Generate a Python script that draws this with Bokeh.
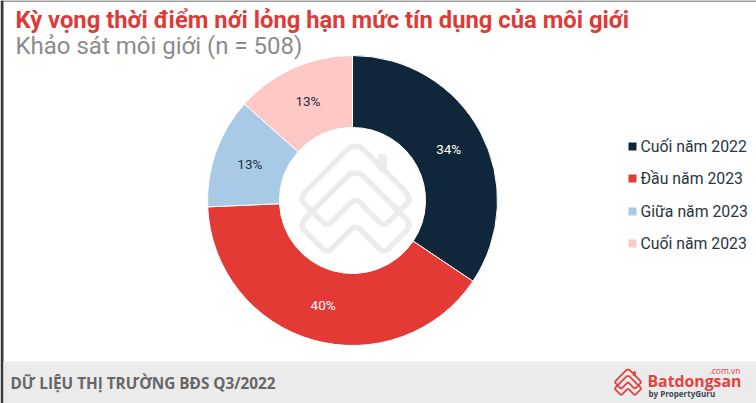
import math
from bokeh.plotting import figure
from bokeh.core.properties import value
from bokeh.models import ColumnDataSource, Range1d
from bokeh.embed import file_html
from bokeh.resources import INLINE

categories = ["Cuối năm 2022", "Đầu năm 2023", "Giữa năm 2023", "Cuối năm 2023"]
values = [34.4, 39.9, 12.3, 13.4]
value_labels = ["34%", "40%", "13%", "13%"]
colors = ["#10273b", "#e43a36", "#a9cae6", "#fdc8c6"]
label_colors = ["white", "white", "#24303c", "#24303c"]
title_text = "Kỳ vọng thời điểm nới lỏng hạn mức tín dụng của môi giới"
subtitle_text = "Khảo sát môi giới (n = 508)"
footer_text = "DỮ LIỆU THỊ TRƯỜNG BĐS Q3/2022"

W, H = 756, 403
p = figure(width=W, height=H, output_backend="svg", toolbar_location=None,
           x_range=Range1d(0, W), y_range=Range1d(0, H),
           min_border=0, outline_line_color=None, background_fill_color="white",
           border_fill_color="white")
p.axis.visible = False
p.grid.visible = False


def Y(page_y):
    return H - page_y


ROBOTO = value("Roboto")
OPEN = value("Open Sans")

# screenshot edge
p.quad(left=[0], right=[3], top=[H], bottom=[0], fill_color="#3a3a3a", line_color=None)
p.quad(left=[0], right=[W], top=[H], bottom=[H - 1], fill_color="#3a3a3a", line_color=None)

# donut
cx, cy, r_out, r_in = 352, Y(200), 145, 73
total = sum(values)
starts, ends, lx, ly = [], [], [], []
cum = 0
for v in values:
    a0 = math.pi / 2 - 2 * math.pi * cum / total
    a1 = math.pi / 2 - 2 * math.pi * (cum + v) / total
    mid = (a0 + a1) / 2
    starts.append(a1)
    ends.append(a0)
    lx.append(cx + 109 * math.cos(mid))
    ly.append(cy + 109 * math.sin(mid))
    cum += v
src = ColumnDataSource(dict(start=starts, end=ends, color=colors, lx=lx, ly=ly, label=value_labels,
                            label_color=label_colors))
p.annular_wedge(x=cx, y=cy, inner_radius=r_in, outer_radius=r_out, start_angle="start", end_angle="end",
                fill_color="color", line_color="white", line_width=1.0, source=src)
p.text(x="lx", y="ly", text="label", source=src, text_font=ROBOTO, text_font_size="13.5px",
       text_align="center", text_baseline="middle", text_color="label_color")


def rounded(pts, cut=0.09, passes=2):
    # corner-cutting on a closed polyline
    for _ in range(passes):
        out = []
        n = len(pts)
        for i in range(n):
            a, b = pts[i], pts[(i + 1) % n]
            out.append((a[0] + (b[0] - a[0]) * cut, a[1] + (b[1] - a[1]) * cut))
            out.append((b[0] - (b[0] - a[0]) * cut, b[1] - (b[1] - a[1]) * cut))
        pts = out
    return pts + [pts[0]]


def logo(ox, oy, s, color, lw):
    # stacked-chevron house mark, origin = apex of the upper shape (page coordinates)
    base = [(0, 0), (170, 170), (85, 255), (0, 170), (-85, 255), (-170, 170)]
    xs, ys = [], []
    for off in (0, 80):
        pts = rounded([(a, b + off) for a, b in base])
        xs.append([ox + s * a / 3 for a, b in pts])
        ys.append([Y(oy + s * b / 3) for a, b in pts])
    p.multi_line(xs=xs, ys=ys, line_color=color, line_width=lw, line_join="round")
    p.line(x=[ox + s * 80 / 3, ox + s * 80 / 3], y=[Y(oy + s * 50 / 3), Y(oy + s * 78 / 3)],
           line_color=color, line_width=lw * 1.7, line_cap="round")


logo(355, 141, 1.0, "#ececec", 5.5)

# titles
p.text(x=[15], y=[Y(19)], text=[title_text], text_font=ROBOTO, text_font_style="bold", text_font_size="23.8px",
       text_color="#dd3b38", text_baseline="middle")
p.text(x=[15], y=[Y(45.5)], text=[subtitle_text], text_font=ROBOTO, text_font_size="24px",
       text_color="#8c8c8c", text_baseline="middle")

# legend
leg_y = [Y(146), Y(178), Y(211), Y(243)]
p.scatter(x=[632] * 4, y=leg_y, marker="square", size=8, fill_color=colors, line_color=None)
p.text(x=[640] * 4, y=leg_y, text=categories, text_font=ROBOTO, text_font_size="15.8px",
       text_color="#2b3440", text_baseline="middle")

# footer
p.quad(left=[3], right=[W], top=[Y(361)], bottom=[Y(403)], fill_color="#ebebeb", line_color=None)
p.text(x=[10], y=[Y(382)], text=[footer_text], text_font=OPEN, text_font_style="bold", text_font_size="15.3px",
       text_color="#666666", text_baseline="middle")
logo(627.5, 368, 0.24, "#e2433f", 1.8)
p.text(x=[647], y=[Y(380)], text=["Batdongsan"], text_font=OPEN, text_font_style="bold", text_font_size="15.8px",
       text_color="#e2433f", text_baseline="middle")
p.text(x=[740], y=[Y(370)], text=[".com.vn"], text_font=OPEN, text_font_size="8.5px",
       text_color="#e2433f", text_baseline="middle", text_align="right")
p.text(x=[648], y=[Y(393)], text=["by PropertyGuru"], text_font=OPEN, text_font_style="bold", text_font_size="8px",
       text_color="#3d4652", text_baseline="middle")

open("out.html", "w").write(file_html(p, INLINE))
